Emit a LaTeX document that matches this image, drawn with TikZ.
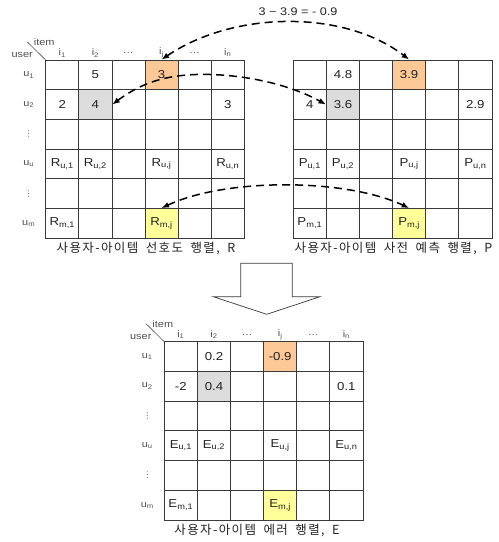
\documentclass[tikz,border=0pt]{standalone}
\usepackage{fontspec}
\setmainfont[FakeStretch=1.15]{Liberation Sans}
\newfontfamily\krfont[LetterSpace=11,WordSpace=1.8]{Noto Sans CJK KR}
\newfontfamily\symfont{DejaVu Sans}
\usetikzlibrary{arrows.meta}
\definecolor{orng}{HTML}{FCC896}
\definecolor{grayc}{HTML}{DCDCDC}
\definecolor{yel}{HTML}{FFFF99}
\definecolor{gridc}{HTML}{3A3A3A}
\definecolor{headc}{HTML}{505050}
\definecolor{txtc}{HTML}{222222}
\tikzset{
  cell/.style={draw=gridc, line width=0.8pt, minimum width=33.1pt, minimum height=29.7pt,
    inner sep=0pt, font=\fontsize{11.5}{12}\selectfont, text=txtc},
  head/.style={inner sep=0pt, font=\fontsize{9.5}{10}\selectfont, text=headc},
  hline/.style={draw=headc, line width=0.6pt},
  dasharrow/.style={line width=1.5pt, dash pattern=on 8pt off 5pt,
    {Latex[length=7.5pt,width=6pt]}-{Latex[length=7.5pt,width=6pt]}},
  klabel/.style={inner sep=0pt, font=\krfont\fontsize{12.5}{13}\selectfont, text=txtc},
  blockarrow/.style={draw=gridc, line width=0.7pt, fill=white}
}
\newcommand\myvd{{\symfont\fontsize{8}{8}\selectfont ⋮}}
\newcommand\drawmat[3]{%
  \begin{scope}[shift={#2}]
    \foreach \r/\row in {#3} {
      \foreach \v [count=\c] in \row {
        \edef\fc{\ifnum\r\c=14 orng\else\ifnum\r\c=22 grayc\else\ifnum\r\c=64 yel\else white\fi\fi\fi}
        \node[cell, fill=\fc] (#1\r\c) at ({(\c-0.5)*33.1},{(\r-0.5)*29.7}) {\v};
      }
    }
  \end{scope}}
\newcommand\drawhead[2]{%
  \begin{scope}[shift={#2}]
    \foreach \t [count=\c] in {i\textsubscript{1},i\textsubscript{2},\ldots,i\textsubscript{j},\ldots,i\textsubscript{n}}
      \node[head] (#1col\c) at ({(\c-0.5)*33.1},-7) {\t};
    \foreach \t [count=\r] in {u\textsubscript{1},u\textsubscript{2},\myvd,u\textsubscript{u},\myvd,u\textsubscript{m}}
      \node[head] (#1row\r) at (-17,{(\r-0.5)*29.7}) {\t};
    \node[head] (#1item) at (-1.5,-18) {item};
    \node[head] (#1user) at (-23.5,-5) {user};
    \coordinate (#1d1) at (-18.5,-18.2);
    \coordinate (#1d2) at (0,0);
    \draw[hline] (#1d1) -- (#1d2);
  \end{scope}}
\begin{document}
\begin{tikzpicture}[x=1pt,y=-1pt]
\useasboundingbox (0,0) rectangle (499,542);
% matrix R
\drawmat{R}{(45.7,60)}{1/{{},5,{},3,{},{}},2/{2,4,{},{},{},3},3/{{},{},{},{},{},{}},4/{{R\textsubscript{u,1}},{R\textsubscript{u,2}},{},{R\textsubscript{u,j}},{},{R\textsubscript{u,n}}},5/{{},{},{},{},{},{}},6/{{R\textsubscript{m,1}},{},{},{R\textsubscript{m,j}},{},{}}}
\drawhead{R}{(45.7,60)}
% matrix P
\drawmat{P}{(293.3,60)}{1/{{},4.8,{},3.9,{},{}},2/{4,3.6,{},{},{},2.9},3/{{},{},{},{},{},{}},4/{{P\textsubscript{u,1}},{P\textsubscript{u,2}},{},{P\textsubscript{u,j}},{},{P\textsubscript{u,n}}},5/{{},{},{},{},{},{}},6/{{P\textsubscript{m,1}},{},{},{P\textsubscript{m,j}},{},{}}}
% matrix E
\drawmat{E}{(164.3,341.7)}{1/{{},0.2,{},-0.9,{},{}},2/{-2,0.4,{},{},{},0.1},3/{{},{},{},{},{},{}},4/{{E\textsubscript{u,1}},{E\textsubscript{u,2}},{},{E\textsubscript{u,j}},{},{E\textsubscript{u,n}}},5/{{},{},{},{},{},{}},6/{{E\textsubscript{m,1}},{},{},{E\textsubscript{m,j}},{},{}}}
\drawhead{E}{(164.3,341.7)}
% labels
\node[klabel] (Rlab) at (146,249) {사용자-아이템 선호도 행렬, R};
\node[klabel] (Plab) at (393.5,249) {사용자-아이템 사전 예측 행렬, P};
\node[klabel] (Elab) at (257,531) {사용자-아이템 에러 행렬, E};
\node[inner sep=0pt, font=\fontsize{11}{12}\selectfont, text=txtc] (diff) at (298,12) {3 − 3.9 = - 0.9};
% dashed arrows
\draw[dasharrow] (R14.north) .. controls (235,10) and (345,10) .. (P14.north);
\coordinate (m2) at (221,75);
\draw[dasharrow] (R22.east) .. controls (145,80) and (175,72) .. (m2) .. controls (265,78) and (300,90) .. (P22.west);
\draw[dasharrow] (R64.north) .. controls (225,178) and (345,178) .. (P64.north);
% block arrow
\draw[blockarrow] (240.7,263.3) -- (292.3,263.3) -- (292.3,296.7) -- (320,296.7) -- (266.7,314.3) -- (213.3,296.7) -- (240.7,296.7) -- cycle;
\end{tikzpicture}
\end{document}
